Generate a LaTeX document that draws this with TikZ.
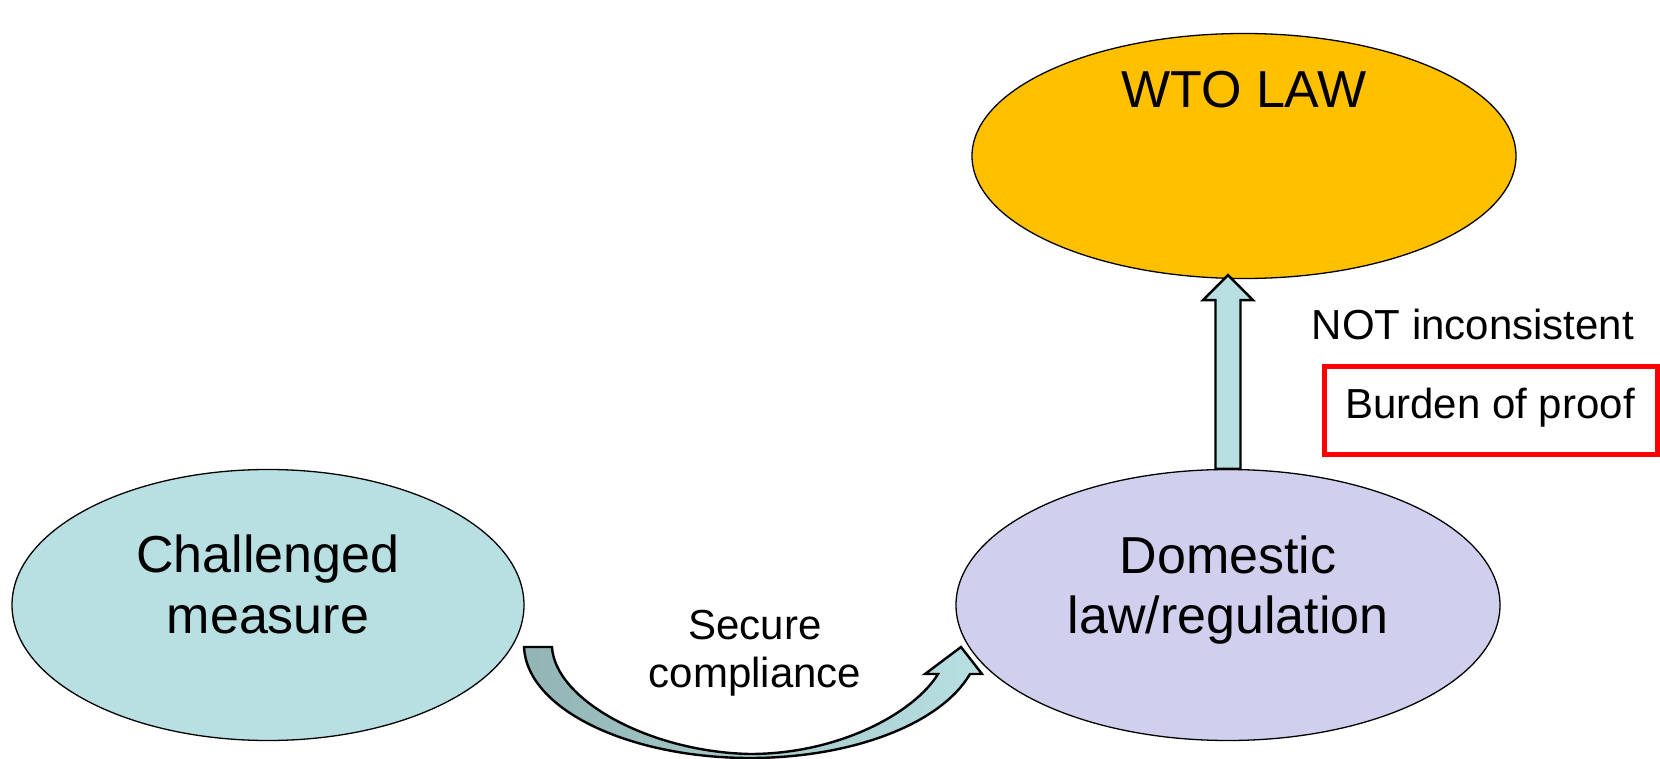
\documentclass[tikz,border=0pt]{standalone}
\usepackage{fontspec}
\setmainfont{Liberation Sans}
\usetikzlibrary{shapes.geometric,calc}
\definecolor{wtogold}{RGB}{255,192,0}
\definecolor{cmblue}{RGB}{184,223,226}
\definecolor{domlav}{RGB}{208,208,238}
\definecolor{arrlight}{RGB}{184,223,226}
\definecolor{arrdark}{RGB}{146,180,180}
\begin{document}
\begin{tikzpicture}[x=1pt,y=-1pt,
  ell/.style={ellipse,draw=black,line width=1.3pt,inner sep=0pt},
  big/.style={anchor=base,inner sep=0pt,font=\fontsize{52}{61}\selectfont},
  side/.style={anchor=base,inner sep=0pt,font=\fontsize{42}{48}\selectfont},
  blockarrow/.style={draw=black,line width=2.4pt,line join=miter},
  redbox/.style={draw=red,line width=5pt,inner sep=0pt}]
\useasboundingbox (0,0) rectangle (1660,759);

% ellipses
\node[ell,fill=wtogold,minimum width=544pt,minimum height=245pt] (wto) at (1244,156) {};
\node[ell,fill=cmblue,minimum width=512pt,minimum height=271pt] (cm) at (268,605) {};
\node[ell,fill=domlav,minimum width=544pt,minimum height=271pt] (dom) at (1228,605) {};

% up block arrow from domestic law to WTO law
\coordinate (ub) at (dom.north);
\coordinate (ut) at (dom.north |- wto.south);
\draw[blockarrow,fill=arrlight]
  ($(ub)+(-12.5,0)$) -- ($(ut)+(-12.5,21)$) -- ($(ut)+(-25,21)$) --
  ($(ut)+(0,-4)$) -- ($(ut)+(25,21)$) -- ($(ut)+(12.5,21)$) --
  ($(ub)+(12.5,0)$) -- cycle;

% curved block arrow from challenged measure to domestic law
\coordinate (tailL) at (524,647);
\coordinate (tip) at (961,647);
\draw[blockarrow,left color=arrdark,right color=arrlight]
  (tailL) -- (552,647)
  .. controls (555,700) and (650,752) .. (750,754)
  .. controls (840,754) and (915,712) .. (938,674)
  -- (925,674) -- (tip) -- (982,674) -- (970,674)
  .. controls (940,725) and (850,758) .. (750,758)
  .. controls (630,758) and (527,710) .. (tailL) -- cycle;

% texts
\node[big] (wtot) at (1244,108) {WTO LAW};
\node[big] (cm1) at (268,572) {Challenged};
\node[big] (cm2) at (268,633) {measure};
\node[big] (dm1) at (1228,573) {Domestic};
\node[big] (dm2) at (1228,633) {law/regulation};
\node[side] (sc1) at (755,639) {Secure};
\node[side] (sc2) at (755,687) {compliance};
\node[side] (ni) at (1473,339) {NOT inconsistent};

% burden of proof box
\node[redbox,minimum width=333pt,minimum height=88pt] (bbox) at (1491,410.5) {};
\node[side] (bp) at (1490,418) {Burden of proof};
\end{tikzpicture}
\end{document}
